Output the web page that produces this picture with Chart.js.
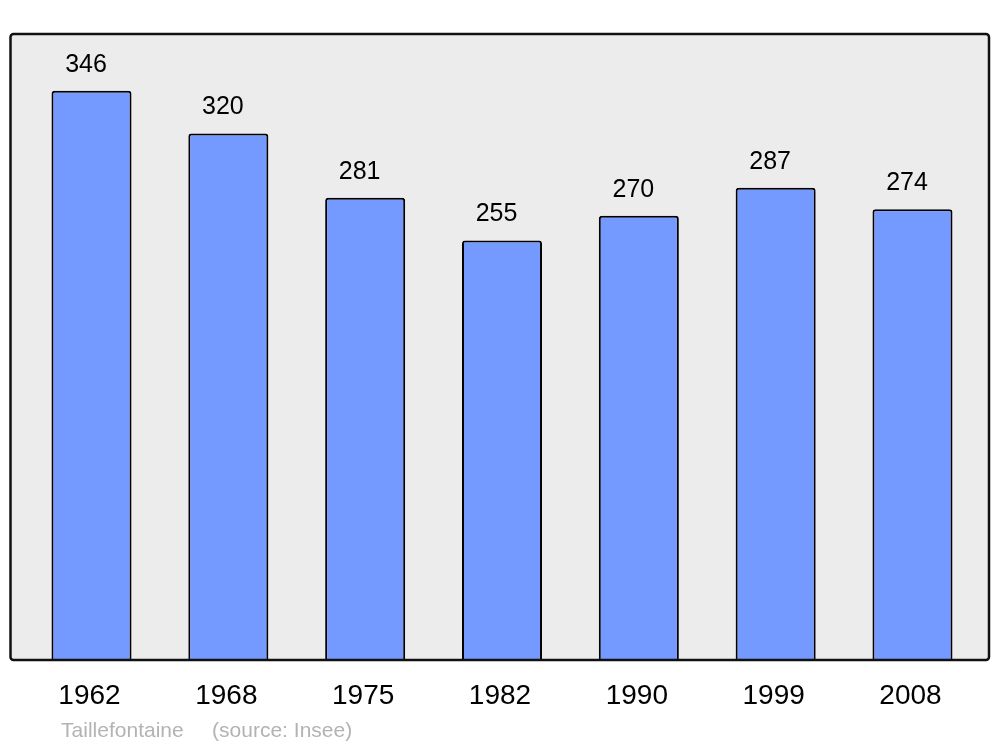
<!DOCTYPE html>
<html>
<head>
<meta charset="utf-8">
<script src="https://cdn.jsdelivr.net/npm/chart.js@4/dist/chart.umd.min.js"></script>
<style>
html,body{margin:0;padding:0;background:#fff;}
#wrap{width:1000px;height:747px;position:relative;}
</style>
</head>
<body>
<div id="wrap"><canvas id="c" width="1000" height="747"></canvas></div>
<script>
const years = ["1962","1968","1975","1982","1990","1999","2008"];
const population = [346,320,281,255,270,287,274];
const placeName = "Taillefontaine";
const sourceText = "(source: Insee)";

const FONT = '"Liberation Sans", Arial, sans-serif';

const bgPlugin = {
  id: 'bg',
  beforeDraw(chart) {
    const {ctx, chartArea: a} = chart;
    const x0 = a.left - 12.6, x1 = a.right + 8.1, y0 = a.top, y1 = a.bottom;
    ctx.save();
    ctx.beginPath();
    ctx.roundRect(x0, y0, x1 - x0, y1 - y0, 3);
    ctx.fillStyle = '#ececec';
    ctx.fill();
    ctx.restore();
  },
  afterDatasetsDraw(chart) {
    const {ctx, chartArea: a} = chart;
    const x0 = a.left - 12.6, x1 = a.right + 8.1, y0 = a.top, y1 = a.bottom;
    ctx.save();
    ctx.beginPath();
    ctx.roundRect(x0, y0, x1 - x0, y1 - y0, 3);
    ctx.lineWidth = 2.5;
    ctx.strokeStyle = '#111';
    ctx.stroke();
    // labels
    const meta = chart.getDatasetMeta(0);
    ctx.fillStyle = '#000';
    ctx.textAlign = 'center';
    ctx.textBaseline = 'middle';
    ctx.font = '25px ' + FONT;
    meta.data.forEach((bar, i) => {
      ctx.fillText(String(population[i]), bar.x - 5.5, bar.y - 26);
    });
    ctx.font = '28px ' + FONT;
    const xs = chart.scales.x;
    years.forEach((y, i) => {
      ctx.fillText(y, xs.getPixelForValue(i) - 2, a.bottom + 36.5);
    });
    ctx.font = '21px ' + FONT;
    ctx.fillStyle = '#b3b3b3';
    ctx.textAlign = 'left';
    ctx.textBaseline = 'alphabetic';
    const sx = a.left + 38;
    ctx.fillText(placeName, sx, a.bottom + 77);
    ctx.fillText(sourceText, sx + 151, a.bottom + 77);
    ctx.restore();
  }
};

new Chart(document.getElementById('c'), {
  type: 'bar',
  data: {
    labels: years,
    datasets: [{
      data: population,
      backgroundColor: '#7499ff',
      borderColor: '#000',
      borderWidth: 2,
      borderRadius: 3,
      borderSkipped: 'bottom',
      categoryPercentage: 1,
      barPercentage: 0.585
    }]
  },
  options: {
    responsive: false,
    animation: false,
    devicePixelRatio: 1,
    layout: { padding: { left: 23.1, right: 19.1, top: 34, bottom: 87 } },
    plugins: { legend: { display: false }, tooltip: { enabled: false } },
    scales: {
      x: { display: false },
      y: { display: false, min: 0, max: 380.5 }
    }
  },
  plugins: [bgPlugin]
});
</script>
</body>
</html>
